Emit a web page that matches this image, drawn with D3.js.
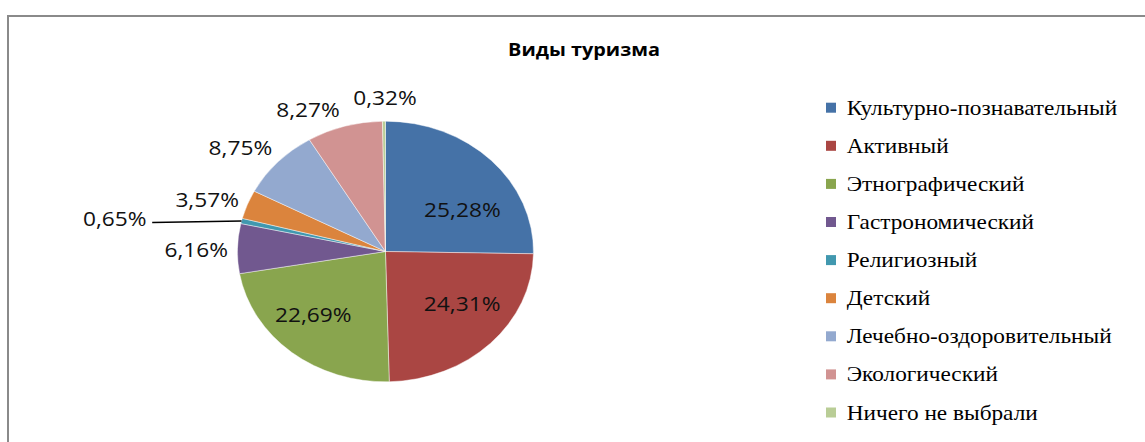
<!DOCTYPE html>
<html>
<head>
<meta charset="utf-8">
<script src="https://cdn.jsdelivr.net/npm/d3@7"></script>
<style>
  html, body { margin: 0; padding: 0; background: #fff; }
  svg { display: block; }
</style>
</head>
<body>
<svg id="chart" width="1145" height="442"></svg>
<script>
// ---- data ----
const chartTitle = "Виды туризма";
const categories = [
  "Культурно-познавательный",
  "Активный",
  "Этнографический",
  "Гастрономический",
  "Религиозный",
  "Детский",
  "Лечебно-оздоровительный",
  "Экологический",
  "Ничего не выбрали"
];
const shares = [25.28, 24.31, 22.69, 6.16, 0.65, 3.57, 8.75, 8.27, 0.32];
const palette = ["#4572A7", "#AA4643", "#89A54E", "#71588F", "#4198AF",
                 "#DB843D", "#93A9CF", "#D19392", "#B9CD96"];

// ---- layout ----
const W = 1145, H = 442;
const stretch = 1.136;            // chart is drawn slightly wider than tall
const cx = 339.3, cy = 251.5, r = 130.3;
const labelMode = ["in", "in", "in", "out", "leader", "out", "out", "out", "out"];
const labelNudge = [[12, 13], [12, -2.5], [-14, 3], [0.7, 1.9], [-75.7, 2],
                    [-0.9, 1.8], [-6, -2.4], [-22, 0], [1.3, -6]];

const fmt = v => d3.format(".2f")(v).replace(".", ",") + "%";

const svg = d3.select("#chart");

// outer frame of the chart area
svg.append("path")
  .attr("d", `M8,${H} V16 H${W}`)
  .attr("fill", "none")
  .attr("stroke", "#8a8a8a")
  .attr("stroke-width", 2);

const g = svg.append("g").attr("transform", `scale(${stretch},1)`);

// title
g.append("text")
  .attr("x", 584 / stretch)
  .attr("y", 56)
  .attr("text-anchor", "middle")
  .style("font-family", "'Open Sans', sans-serif")
  .attr("font-weight", "bold")
  .attr("font-size", 17.5)
  .attr("fill", "#000")
  .text(chartTitle);

// pie
const arcs = d3.pie().sort(null).value(d => d)(shares);
const arc = d3.arc().innerRadius(0).outerRadius(r);
const pieG = g.append("g").attr("transform", `translate(${cx},${cy})`);

pieG.selectAll("path.slice")
  .data(arcs)
  .join("path")
  .attr("class", "slice")
  .attr("d", arc)
  .attr("fill", (d, i) => palette[i])
  .attr("stroke", "#ffffff")
  .attr("stroke-width", 0.6)
  .attr("stroke-opacity", 0.7);

// data labels
const labelG = pieG.append("g")
  .style("font-family", "'Open Sans', sans-serif")
  .attr("font-size", 20)
  .attr("fill", "#111");

arcs.forEach((d, i) => {
  const mid = (d.startAngle + d.endAngle) / 2;
  const ux = Math.sin(mid), uy = -Math.cos(mid);
  const t = labelG.append("text")
    .attr("text-anchor", "middle")
    .attr("dy", "0.35em")
    .text(fmt(shares[i]));
  const w = t.node().getComputedTextLength();
  const h = 16, gap = 9;
  let x, y;
  if (labelMode[i] === "in") {
    x = ux * r * 0.6;
    y = uy * r * 0.6;
  } else {
    x = ux * (r + gap) + ux * w / 2;
    y = uy * (r + gap) + uy * h / 2;
  }
  x += labelNudge[i][0];
  y += labelNudge[i][1];
  t.attr("x", x).attr("y", y);
  if (labelMode[i] === "leader") {
    pieG.append("line")
      .attr("x1", x + w / 2 + 5)
      .attr("y1", y + 3.5)
      .attr("x2", ux * r)
      .attr("y2", uy * r)
      .attr("stroke", "#000")
      .attr("stroke-width", 1.4);
  }
});

// legend
const legend = g.append("g").attr("class", "legend");

const rows = legend.selectAll("g")
  .data(categories)
  .join("g")
  .attr("transform", (d, i) => `translate(${826 / stretch},${107.7 + i * 38.1})`);

rows.append("rect")
  .attr("x", 0)
  .attr("y", -5)
  .attr("width", 10 / stretch)
  .attr("height", 10)
  .attr("fill", (d, i) => palette[i]);

rows.append("text")
  .attr("x", (846.7 - 826) / stretch)
  .attr("y", 7)
  .style("font-family", "\"Liberation Serif\", serif")
  .attr("font-size", 20.5)
  .attr("fill", "#000")
  .text(d => d);
</script>
</body>
</html>
